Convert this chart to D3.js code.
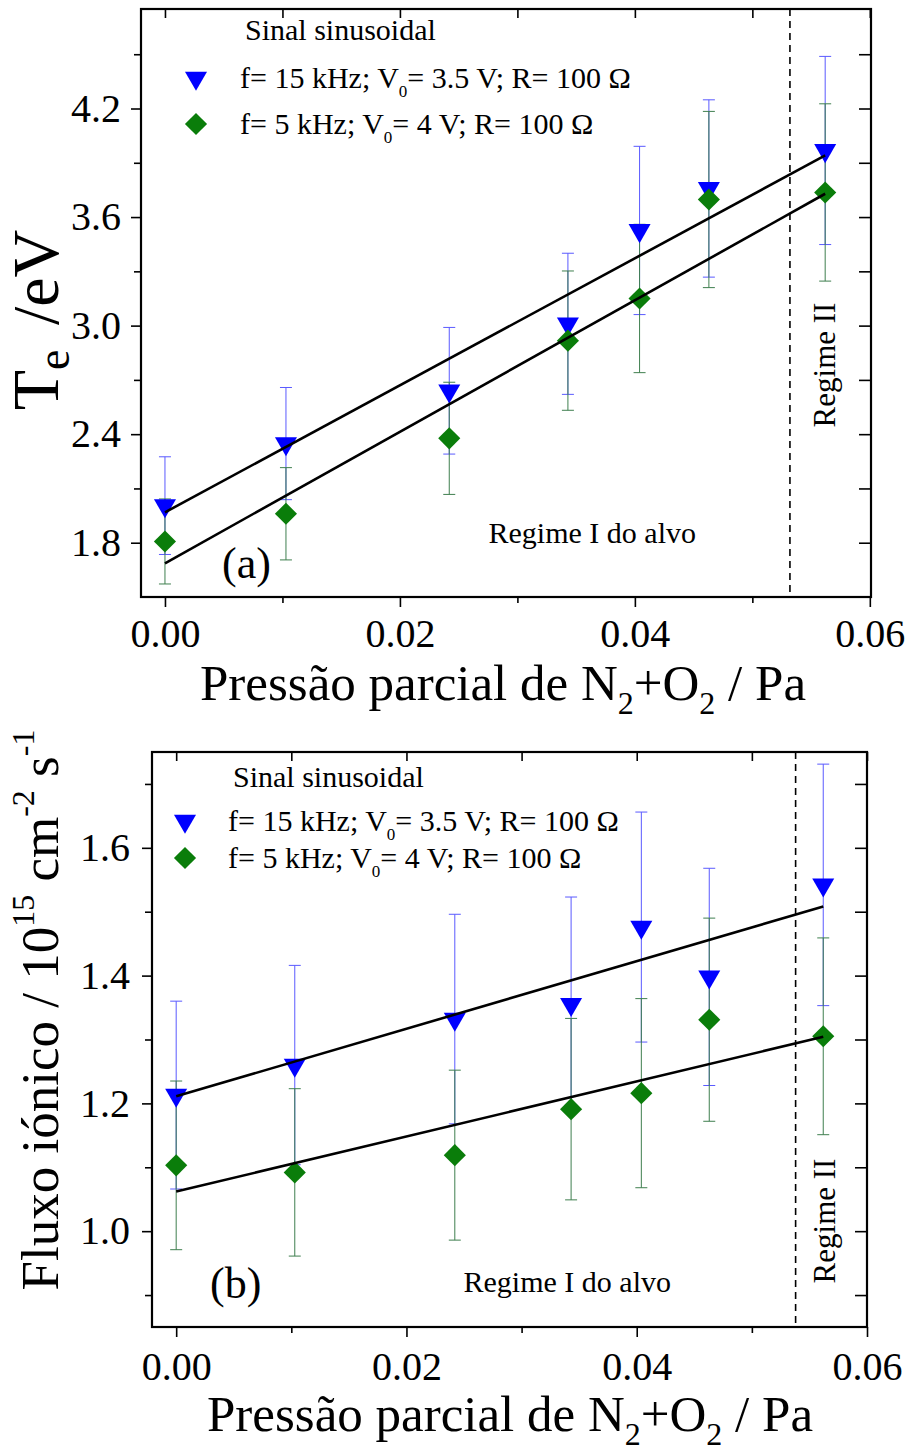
<!DOCTYPE html>
<html>
<head>
<meta charset="utf-8">
<script src="https://cdn.jsdelivr.net/npm/d3@7"></script>
<style>
  body { margin: 0; background: #fff; }
  svg, svg text, svg tspan { font-family: 'Liberation Serif', serif !important; }
</style>
</head>
<body>
<div id="root"></div>
<script>
const width = 911
const height = 1452

// partial pressure of N2+O2 / Pa
const pressure = [0, 0.0103, 0.0242, 0.0343, 0.0404, 0.0463, 0.0562]

// (a) electron temperature / eV
const te15 = [2.005, 2.348, 2.64, 3.01, 3.526, 3.758, 3.968]
const te15Err = [0.27, 0.31, 0.35, 0.39, 0.465, 0.49, 0.52]
const te5 = [1.807, 1.96, 2.377, 2.917, 3.15, 3.697, 3.736]
const te5Err = [0.235, 0.255, 0.31, 0.385, 0.41, 0.487, 0.49]

// (b) ion flux / 10^15 cm^-2 s^-1
const flux15 = [1.213, 1.26, 1.332, 1.355, 1.476, 1.398, 1.542]
const flux15Err = [0.147, 0.156, 0.164, 0.168, 0.18, 0.17, 0.189]
const flux5 = [1.103, 1.092, 1.119, 1.191, 1.216, 1.331, 1.305]
const flux5Err = [0.132, 0.131, 0.133, 0.142, 0.148, 0.159, 0.154]

// linear fits: [intercept, slope]
const teFit15 = [1.968, 35.1]
const teFit5 = [1.686, 36.35]
const fluxFit15 = [1.211, 5.29]
const fluxFit5 = [1.062, 4.31]
const fitRange = [0, 0.0562]

// regime I / II boundary
const boundaryA = 0.0532
const boundaryB = 0.0538

const xTicks = [0, 0.02, 0.04, 0.06]
const xMinor = [0.01, 0.03, 0.05]
const yTicksA = [1.8, 2.4, 3.0, 3.6, 4.2]
const yMinorA = [2.1, 2.7, 3.3, 3.9, 4.5]
const yTicksB = [1.0, 1.2, 1.4, 1.6]
const yMinorB = [0.9, 1.1, 1.3, 1.5, 1.7]

const legendSeries = [['15', '3.5'], ['5', '4']]

const blue = '#0000ff'
const green = '#0a7d0a'
const font = 'Liberation Serif, serif'

const svg = d3.select('#root').append('svg')
  .attr('width', width)
  .attr('height', height)
  .attr('font-family', font)

svg.append('rect').attr('width', width).attr('height', height).attr('fill', '#fff')

const triangle = d3.symbol().type(d3.symbolTriangle).size(210)
const diamond = d3.symbol().type(d3.symbolSquare).size(245)

function drawPanel (o) {
  const x = d3.scaleLinear().domain(o.xDomain).range([o.left, o.right])
  const y = d3.scaleLinear().domain(o.yDomain).range([o.bottom, o.top])
  const g = svg.append('g')

  // axes
  const styleAxis = sel => {
    sel.attr('font-family', font).attr('font-size', 40)
    sel.select('.domain').remove()
    sel.selectAll('line').attr('stroke', '#000').attr('stroke-width', 1.6)
    sel.selectAll('text').attr('font-family', font).attr('font-size', 40).attr('fill', '#000')
  }
  g.append('g').attr('transform', `translate(0,${o.bottom})`)
    .call(d3.axisBottom(x).tickValues(xTicks).tickFormat(d3.format('.2f')).tickSize(10).tickPadding(o.xPad))
    .call(styleAxis)
  g.append('g').attr('transform', `translate(0,${o.bottom})`)
    .call(d3.axisBottom(x).tickValues(xMinor).tickFormat('').tickSize(6))
    .call(styleAxis)
  g.append('g').attr('transform', `translate(0,${o.top})`)
    .call(d3.axisTop(x).tickValues(xTicks.concat(xMinor)).tickFormat('').tickSize(-9))
    .call(styleAxis)
  g.append('g').attr('transform', `translate(${o.left},0)`)
    .call(d3.axisLeft(y).tickValues(o.yTicks).tickFormat(d3.format('.1f')).tickSize(10).tickPadding(o.yPad))
    .call(styleAxis)
  g.append('g').attr('transform', `translate(${o.left},0)`)
    .call(d3.axisLeft(y).tickValues(o.yMinor).tickFormat('').tickSize(7))
    .call(styleAxis)
  g.append('g').attr('transform', `translate(${o.right},0)`)
    .call(d3.axisRight(y).tickValues(o.yTicks.concat(o.yMinor)).tickFormat('').tickSize(-12))
    .call(styleAxis)

  g.append('rect')
    .attr('x', o.left).attr('y', o.top)
    .attr('width', o.right - o.left).attr('height', o.bottom - o.top)
    .attr('fill', 'none').attr('stroke', '#000').attr('stroke-width', 2.2)

  // regime boundary
  g.append('line')
    .attr('x1', x(o.boundary)).attr('x2', x(o.boundary))
    .attr('y1', o.top).attr('y2', o.bottom)
    .attr('stroke', '#000').attr('stroke-width', 1.6)
    .attr('stroke-dasharray', '7,5')

  // error bars
  const errBars = (vals, errs, color) => {
    const eg = g.append('g').attr('stroke', color).attr('stroke-width', 1)
    pressure.forEach((p, i) => {
      const cx = x(p)
      const y0 = y(vals[i] - errs[i])
      const y1 = y(vals[i] + errs[i])
      eg.append('line').attr('x1', cx).attr('x2', cx).attr('y1', y0).attr('y2', y1)
      eg.append('line').attr('x1', cx - 6).attr('x2', cx + 6).attr('y1', y0).attr('y2', y0)
      eg.append('line').attr('x1', cx - 6).attr('x2', cx + 6).attr('y1', y1).attr('y2', y1)
    })
  }
  errBars(o.s15, o.e15, '#5a5aff')
  errBars(o.s5, o.e5, '#3f7f4f')

  g.selectAll('.tri').data(o.s15).join('path')
    .attr('d', triangle)
    .attr('transform', (d, i) => `translate(${x(pressure[i])},${y(d)}) rotate(180)`)
    .attr('fill', blue)
  g.selectAll('.dia').data(o.s5).join('path')
    .attr('d', diamond)
    .attr('transform', (d, i) => `translate(${x(pressure[i])},${y(d)}) rotate(45)`)
    .attr('fill', green)

  // fits
  const line = d3.line().x(d => x(d[0])).y(d => y(d[1]))
  ;[o.fit15, o.fit5].forEach(f => {
    g.append('path')
      .attr('d', line(fitRange.map(p => [p, f[0] + f[1] * p])))
      .attr('fill', 'none').attr('stroke', '#000').attr('stroke-width', 2.6)
  })

  // legend
  const lg = g.append('g').attr('font-size', 30).attr('font-family', font)
  lg.append('text').attr('x', o.left + o.leg.titleX).attr('y', o.top + o.leg.titleY).text('Sinal sinusoidal')
  legendSeries.forEach((s, i) => {
    const ly = o.top + o.leg.rowY[i]
    if (i === 0) {
      lg.append('path').attr('d', triangle).attr('fill', blue)
        .attr('transform', `translate(${o.left + o.leg.markX},${ly}) rotate(180)`)
    } else {
      lg.append('path').attr('d', diamond).attr('fill', green)
        .attr('transform', `translate(${o.left + o.leg.markX},${ly}) rotate(45)`)
    }
    const t = lg.append('text').attr('x', o.left + o.leg.textX).attr('y', ly + 10)
    t.append('tspan').text(`f= ${s[0]} kHz; V`)
    t.append('tspan').attr('font-size', 17).attr('dy', 9).text('0')
    t.append('tspan').attr('dy', -9).text(`= ${s[1]} V; R= 100 \u03A9`)
  })

  // annotations
  g.append('text').attr('x', o.tag[0]).attr('y', o.tag[1]).attr('font-size', 44).text(o.tagText)
  g.append('text').attr('x', o.reg1[0]).attr('y', o.reg1[1]).attr('font-size', 30)
    .attr('text-anchor', 'end').text('Regime I do alvo')
  g.append('text').attr('transform', `translate(${o.reg2[0]},${o.reg2[1]}) rotate(-90)`)
    .attr('font-size', 31).attr('text-anchor', 'middle').text('Regime II')

  // x title
  const xt = g.append('text').attr('x', o.xTitleX).attr('y', o.xTitleY)
    .attr('font-size', 51).attr('text-anchor', 'middle')
  xt.append('tspan').text('Press\u00e3o parcial de N')
  xt.append('tspan').attr('font-size', 32).attr('dy', 14).text('2')
  xt.append('tspan').attr('dy', -14).text('+O')
  xt.append('tspan').attr('font-size', 32).attr('dy', 14).text('2')
  xt.append('tspan').attr('dy', -14).text(' / Pa')

  return g
}

drawPanel({
  left: 141, right: 871, top: 9, bottom: 597,
  xDomain: [-0.00204, 0.0601], yDomain: [1.5, 4.75],
  yTicks: yTicksA, yMinor: yMinorA, xPad: 12, yPad: 10,
  s15: te15, e15: te15Err, s5: te5, e5: te5Err,
  fit15: teFit15, fit5: teFit5, boundary: boundaryA,
  leg: { titleX: 104, titleY: 31, markX: 55, textX: 99, rowY: [69, 115] },
  tag: [222, 578], tagText: '(a)',
  reg1: [696, 543], reg2: [835, 365], xTitleX: 503, xTitleY: 700
})

drawPanel({
  left: 152, right: 867, top: 752, bottom: 1327,
  xDomain: [-0.0021, 0.06], yDomain: [0.85, 1.75],
  yTicks: yTicksB, yMinor: yMinorB, xPad: 15, yPad: 12,
  s15: flux15, e15: flux15Err, s5: flux5, e5: flux5Err,
  fit15: fluxFit15, fit5: fluxFit5, boundary: boundaryB,
  leg: { titleX: 81, titleY: 35, markX: 33, textX: 76, rowY: [69, 106] },
  tag: [210, 1298], tagText: '(b)',
  reg1: [671, 1292], reg2: [835, 1221], xTitleX: 510, xTitleY: 1431
})

// y titles
const ya = svg.append('text').attr('transform', 'translate(58,320) rotate(-90)')
  .attr('font-size', 66).attr('text-anchor', 'middle')
ya.append('tspan').text('T')
ya.append('tspan').attr('font-size', 46).attr('dy', 11).text('e')
ya.append('tspan').attr('dy', -11).attr('dx', 8).text(' /eV')

const yb = svg.append('text').attr('transform', 'translate(58,1010) rotate(-90)')
  .attr('font-size', 53).attr('text-anchor', 'middle')
yb.append('tspan').text('Fluxo i\u00f3nico / 10')
yb.append('tspan').attr('font-size', 32).attr('dy', -24).text('15')
yb.append('tspan').attr('dy', 24).text(' cm')
yb.append('tspan').attr('font-size', 32).attr('dy', -24).text('-2')
yb.append('tspan').attr('dy', 24).text(' s')
yb.append('tspan').attr('font-size', 32).attr('dy', -24).text('-1')
</script>
</body>
</html>
